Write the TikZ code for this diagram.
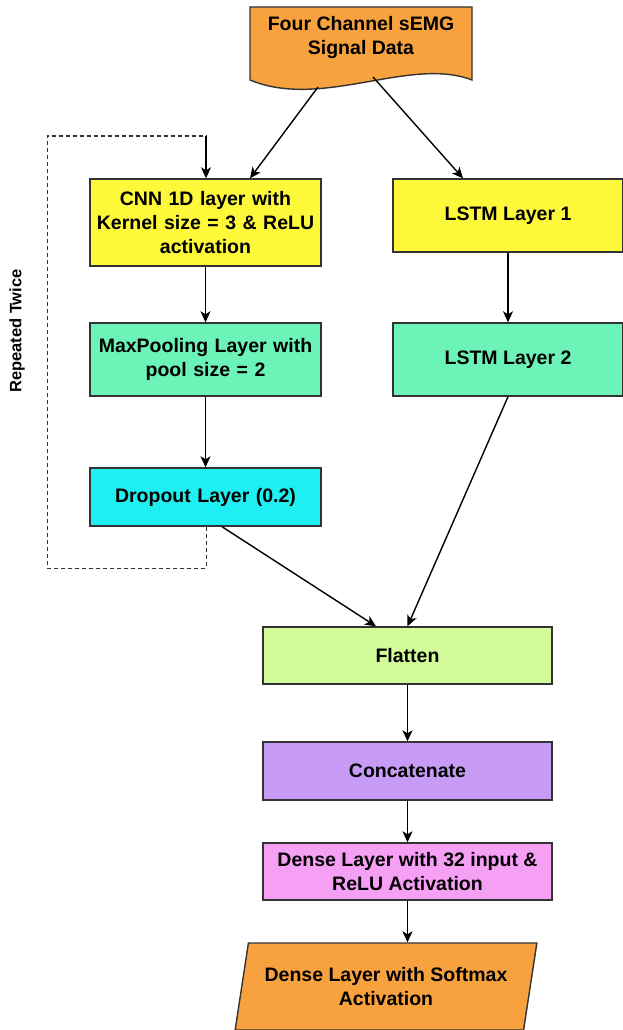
\documentclass[tikz,border=0pt]{standalone}
\usepackage{fontspec}
\setmainfont{Liberation Sans}
\usetikzlibrary{arrows.meta,shapes.geometric}

\definecolor{docorange}{HTML}{F8A23F}
\definecolor{layeryellow}{HTML}{FEF83A}
\definecolor{layermint}{HTML}{6CF3B8}
\definecolor{layercyan}{HTML}{1EEFF2}
\definecolor{layerlime}{HTML}{D2FB9A}
\definecolor{layerviolet}{HTML}{C89CF6}
\definecolor{layerpink}{HTML}{F6A0F5}
\definecolor{edgegray}{HTML}{333333}

\tikzset{
  layer/.style={draw=edgegray, line width=1.4pt, align=center, inner sep=0pt,
    font=\bfseries\fontsize{19.5}{24}\selectfont},
  cnnbox/.style={layer, minimum width=231, text width=226},
  lstmbox/.style={layer, minimum width=230},
  headbox/.style={layer, minimum width=289},
  flow/.style={line width=1.4pt, -{Stealth[length=11pt,width=10pt,inset=3pt]}},
  loopline/.style={line width=1pt, dash pattern=on 4pt off 3pt, draw=edgegray},
}

\begin{document}
\begin{tikzpicture}[x=1pt, y=1pt]
  \useasboundingbox (0,0) rectangle (622,-1030);
  \fill[white] (0,0) rectangle (622,-1030);

  % input document with wavy lower edge
  \filldraw[fill=docorange, draw=edgegray, line width=1.4pt]
    (250,-7) -- (472,-7) -- (472,-80)
    .. controls (410,-56) and (322,-110) .. (250,-80) -- cycle;
  \node[font=\bfseries\fontsize{19.5}{24}\selectfont, align=center] (src) at (361,-38)
    {Four Channel sEMG\\Signal Data};
  \coordinate (srcL) at (318,-87);
  \coordinate (srcR) at (373,-77);

  % convolutional branch
  \node[cnnbox, fill=layeryellow, minimum height=87] (cnn) at (205.5,-222.5)
    {CNN 1D layer with\\Kernel size = 3 \& ReLU\\activation};
  \node[cnnbox, fill=layermint, minimum height=73] (pool) at (205.5,-359.5)
    {MaxPooling Layer with\\pool size = 2};
  \node[cnnbox, fill=layercyan, minimum height=58] (drop) at (205.5,-497)
    {Dropout Layer (0.2)};

  % recurrent branch
  \node[lstmbox, fill=layeryellow, minimum height=73] (lstm1) at (508,-215.5)
    {LSTM Layer 1};
  \node[lstmbox, fill=layermint, minimum height=73] (lstm2) at (508,-359.5)
    {LSTM Layer 2};

  % merged head
  \node[headbox, fill=layerlime, minimum height=57] (flat) at (407.5,-655.5)
    {Flatten};
  \node[headbox, fill=layerviolet, minimum height=58] (cat) at (407.5,-771)
    {Concatenate};
  \node[headbox, fill=layerpink, minimum height=57] (dense) at (407.5,-871.5)
    {Dense Layer with 32 input \&\\ReLU Activation};
  \node[layer, fill=docorange, trapezium, trapezium left angle=73,
        trapezium right angle=107, trapezium stretches=true,
        minimum width=302, minimum height=87] (out) at (386,-986.5)
    {Dense Layer with Softmax\\Activation};

  % repetition loop around the convolutional block
  \coordinate (loopA) at (206,-568);
  \coordinate (loopB) at (47,-568);
  \coordinate (loopC) at (47,-136);
  \coordinate (loopD) at (206,-136);
  \draw[loopline] (drop.south -| loopA) -- (loopA) -- (loopB) -- (loopC) -- (loopD);
  \draw[flow] (loopD) -- (cnn.north -| loopD);
  \node[rotate=90, font=\bfseries\fontsize{16.5}{19}\selectfont] (rep) at (17,-331)
    {Repeated Twice};

  % connectors
  \draw[flow] (srcL) -- ([xshift=44.5pt]cnn.north);
  \draw[flow] (srcR) -- ([xshift=-45pt]lstm1.north);
  \draw[flow] (cnn) -- (pool);
  \draw[flow] (pool) -- (drop);
  \draw[flow] (lstm1) -- (lstm2);
  \draw[flow] ([xshift=16.5pt]drop.south) -- ([xshift=-31.5pt]flat.north);
  \draw[flow] (lstm2.south) -- (flat.north);
  \draw[flow] (flat) -- (cat);
  \draw[flow] (cat) -- (dense);
  \draw[flow] (dense.south) -- (dense.south |- out.north);
\end{tikzpicture}
\end{document}
